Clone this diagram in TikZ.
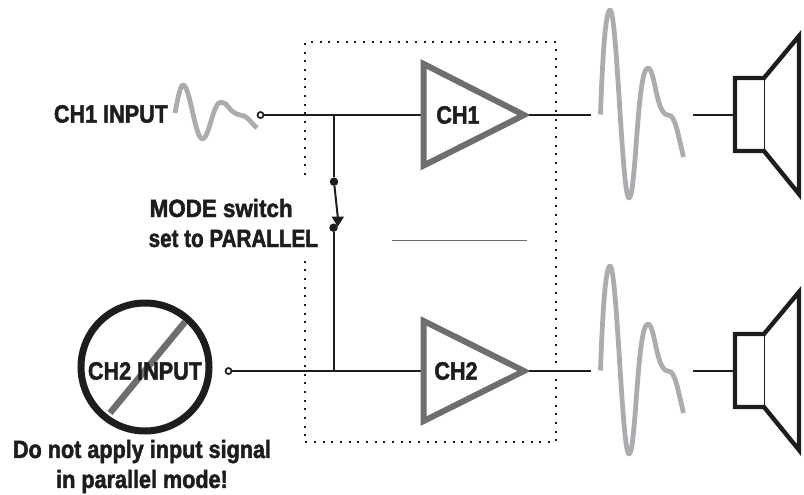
\documentclass[tikz,border=0pt]{standalone}
\usepackage{fontspec}
\setmainfont{Liberation Sans}
\newfontfamily\cond[FakeStretch=0.864,FakeBold=1.8]{Liberation Sans Bold}
\newfontfamily\condw[FakeStretch=0.895,FakeBold=1.8]{Liberation Sans Bold}
\newfontfamily\condn[FakeStretch=0.825,FakeBold=1.8]{Liberation Sans Bold}
\tikzset{
 wave/.style={draw=wavegray,line width=4.8pt,line join=round},
 wire/.style={draw=ink,line width=2pt},
 amp/.style={draw=ampgray,line width=6pt,miter limit=10,fill=white},
 spk/.style={draw=ink,line width=4.4pt,line join=miter},
 lab/.style={font=\cond\fontsize{25}{30}\selectfont,text=ink,inner sep=0pt},
 term/.style={draw=ink,line width=1.7pt,fill=white,circle,inner sep=0pt,minimum size=6pt},
 dotn/.style={fill=ink,circle,inner sep=0pt,minimum size=8.5pt},
 box/.style={draw=ink,line width=2pt,dash pattern=on 2pt off 6.67pt}
}
\definecolor{wavegray}{RGB}{170,172,175}
\definecolor{ampgray}{RGB}{110,110,112}
\definecolor{ink}{RGB}{30,28,28}
\begin{document}
\begin{tikzpicture}[x=1pt,y=-1pt]
\useasboundingbox (0,0) rectangle (804,495);
% dotted box
\coordinate (bl1) at (304.7,175);
\coordinate (tl) at (304.7,42.5);
\coordinate (tr) at (555.7,42.5);
\coordinate (br) at (555.7,442.3);
\coordinate (bl) at (304.7,442.3);
\coordinate (bl2) at (304.7,261);
\draw[box] (bl1) -- (tl) -- (tr) -- (br) -- (bl) -- (bl2);
% divider
\coordinate (d1) at (392,240.7); \coordinate (d2) at (527,240.7);
\draw[draw=ampgray,line width=1.4pt] (d1) -- (d2);
% inputs and switch
\node[term] (in1) at (260.5,115) {};
\node[term] (in2) at (228.5,371) {};
\coordinate (a1in) at (422,115);
\coordinate (a2in) at (422,371);
\coordinate (j1) at (334,115);
\coordinate (j2) at (333.5,371);
\node[dotn] (s1) at (334,181.7) {};
\node[dotn] (s2) at (333.5,227.7) {};
\coordinate (arrowbase) at (338,219);
\draw[wire] (in1) -- (a1in);
\draw[wire] (in2) -- (a2in);
\draw[wire] (j1) -- (s1);
\draw[wire] (s2) -- (j2);
\draw[wire] (s1) -- (arrowbase);
\fill[ink] (331.7,216.7) -- (344,216.7) -- (337.7,226.7) -- cycle;
% amps
\draw[amp] (423.7,64) -- (423.7,165.5) -- (524,115) -- cycle;
\draw[amp] (423.7,321) -- (423.7,421) -- (524,371) -- cycle;
\node[lab] (ch1) at (458,115) {CH1};
\node[lab] (ch2) at (456,371) {CH2};
% output wires
\coordinate (o1a) at (529,115); \coordinate (o1b) at (591,115);
\coordinate (o2a) at (529,371); \coordinate (o2b) at (591,371);
\draw[wire] (o1a) -- (o1b);
\draw[wire] (o2a) -- (o2b);
\coordinate (p1a) at (693,115); \coordinate (p1b) at (735,115);
\coordinate (p2a) at (693,371); \coordinate (p2b) at (735,371);
\draw[wire] (p1a) -- (p1b);
\draw[wire] (p2a) -- (p2b);
% waves
\draw[wave] (175,113) .. controls (177,103) and (180,85) .. (183,85) .. controls (190,85) and (195,139) .. (202.5,139) .. controls (209,139) and (213,102) .. (221,102) .. controls (228,102) and (229,113) .. (240,115) .. controls (247,115) and (250,122) .. (257,128);
\foreach \dy in {0,256}{
\begin{scope}[yshift=-\dy pt]
\draw[wave] (600.5,114.5) .. controls (602,70) and (605,10) .. (610,10) .. controls (617,10) and (622,198) .. (629,198) .. controls (636,198) and (637,68) .. (648,68) .. controls (655,68) and (656,115) .. (668,115) .. controls (675,115) and (677,130) .. (683.5,157);
\draw[spk] (735,78) -- (764,78) -- (799,36) -- (799,194) -- (764,151) -- (735,151) -- cycle;
\draw[draw=ink,line width=1pt] (764,78) -- (764,151);
\end{scope}}
% labels
\node[lab] (l1) at (111,114) {CH1 INPUT};
\node[lab,anchor=base west,font=\condw\fontsize{25}{30}\selectfont] (m1) at (149.5,217) {MODE switch};
\node[lab,anchor=base west,font=\condn\fontsize{25}{30}\selectfont] (m2) at (148.5,247) {set to PARALLEL};
\node[draw=ink,line width=7pt,circle,minimum size=128pt,inner sep=0pt] (nocirc) at (145,367) {};
\draw[draw=ampgray,line width=6.5pt] (185,322) -- (110,413);
\node[lab] (l2) at (145,371) {CH2 INPUT};
\node[lab,align=center] (warn) at (142,466.5) {Do not apply input signal\\in parallel mode!};
\end{tikzpicture}
\end{document}
